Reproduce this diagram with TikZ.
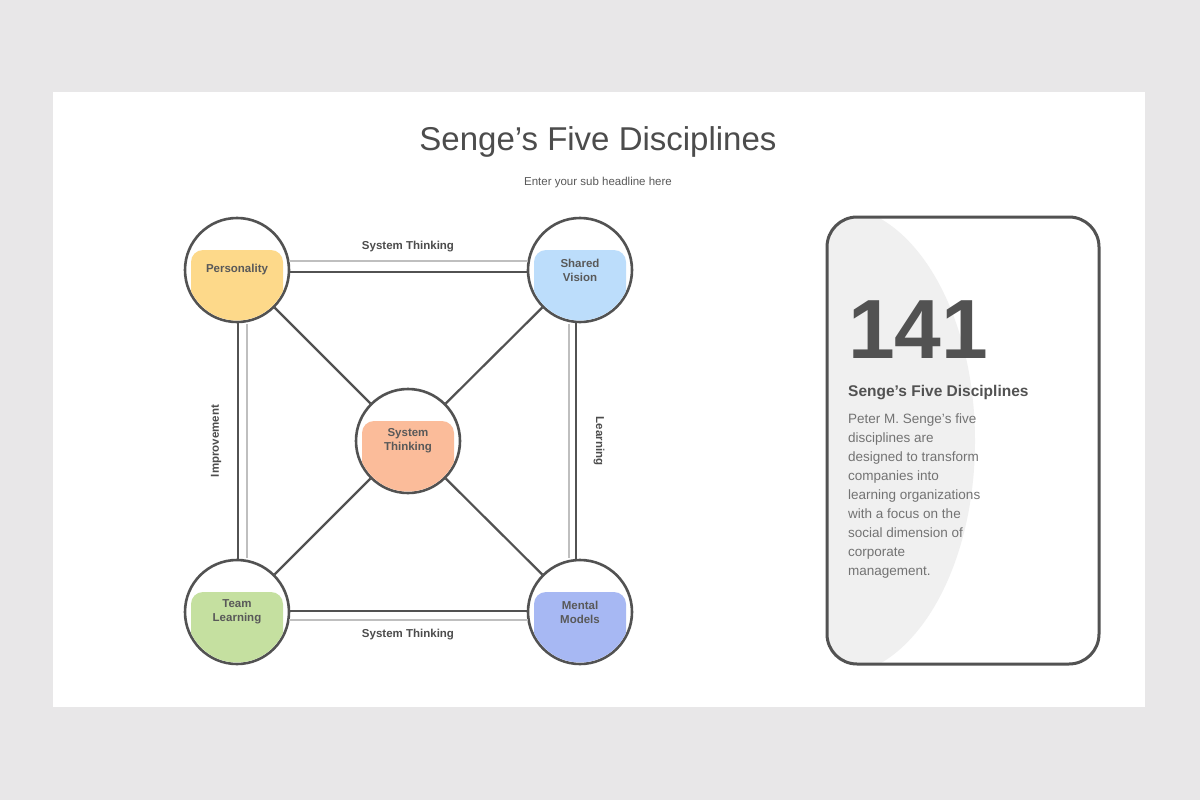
\documentclass[tikz,border=0pt]{standalone}
\usepackage{fontspec}
\setmainfont{Liberation Sans}
\definecolor{cP}{HTML}{FDD98A}
\definecolor{cS}{HTML}{BCDDFB}
\definecolor{cC}{HTML}{FBBC9A}
\definecolor{cT}{HTML}{C5E0A0}
\definecolor{cM}{HTML}{A7B8F3}
\definecolor{bg}{HTML}{E8E7E8}
\begin{document}
\begin{tikzpicture}[x=1pt,y=-1pt,
  dk/.style={draw=black!68,line width=2.6pt},
  lt/.style={draw=black!25,line width=2.6pt},
  spk/.style={draw=black!68,line width=2.2pt},
  circ/.style={circle,minimum size=104pt,inner sep=0pt,draw=black!68,line width=2.6pt},
  lab/.style={font=\bfseries\fontsize{11.5}{14}\selectfont,text=black!65,align=center},
  elab/.style={font=\bfseries\fontsize{11.5}{13}\selectfont,text=black!70}]
\useasboundingbox (0,0) rectangle (1200,800);
\fill[bg] (0,0) rectangle (1200,800);
\fill[white] (53,92) rectangle (1145,707);
\node[font=\fontsize{33}{38}\selectfont,text=black!70] (title) at (598,142) {Senge's Five Disciplines};
\node[font=\fontsize{11.5}{13}\selectfont,text=black!65] (sub) at (598,183) {Enter your sub headline here};
% circles with coloured inner shapes
\foreach \n/\x/\y/\c in {P/237/270/cP,S/580/270/cS,C/408/441/cC,T/237/612/cT,M/580/612/cM}{
  \node[circ,fill=white] (\n) at (\x,\y) {};
  \begin{scope}
    \clip (\x,\y) circle (50.5);
    \fill[\c,rounded corners=12pt] (\x-46,\y-20) rectangle (\x+46,\y+70);
  \end{scope}
}
\node[lab] (lP) at (P) {Personality};
\node[lab] (lS) at (S) {Shared\\Vision};
\node[lab] (lC) at (C) {System\\Thinking};
\node[lab] (lT) at (T) {Team\\Learning};
\node[lab] (lM) at (M) {Mental\\Models};
\draw[dk] ([yshift=-2pt]P.east) -- ([yshift=-2pt]S.west);
\draw[lt] ([yshift=9pt,xshift=-1pt]P.east) -- ([yshift=9pt,xshift=1pt]S.west);
\draw[dk] ([yshift=1pt]T.east) -- ([yshift=1pt]M.west);
\draw[lt] ([yshift=-8pt,xshift=-1pt]T.east) -- ([yshift=-8pt,xshift=1pt]M.west);
\draw[dk] ([xshift=1pt]P.south) -- ([xshift=1pt]T.north);
\draw[lt] ([xshift=10pt,yshift=-1pt]P.south) -- ([xshift=10pt,yshift=1pt]T.north);
\draw[dk] ([xshift=-4pt]S.south) -- ([xshift=-4pt]M.north);
\draw[lt] ([xshift=-11pt,yshift=-1pt]S.south) -- ([xshift=-11pt,yshift=1pt]M.north);
\draw[spk] (C) -- (P); \draw[spk] (C) -- (S); \draw[spk] (C) -- (T); \draw[spk] (C) -- (M);
\node[elab] (e1) at (408,247) {System Thinking};
\node[elab] (e2) at (408,635) {System Thinking};
\node[elab,rotate=90] (e3) at (216,441) {Improvement};
\node[elab,rotate=-90] (e4) at (599,441) {Learning};
% card
\begin{scope}
  \clip[rounded corners=30pt] (827,217) rectangle (1099,664);
  \fill[black!6] (835,441) ellipse (140 and 235);
\end{scope}
\draw[black!68,line width=3pt,rounded corners=30pt] (827,217) rectangle (1099,664);
\node[font=\bfseries\fontsize{84}{84}\selectfont,text=black!68,anchor=west,inner sep=0pt] (num) at (848,330) {141};
\node[font=\bfseries\fontsize{15.5}{18}\selectfont,text=black!68,anchor=west,inner sep=0pt] (ct) at (848,393) {Senge's Five Disciplines};
\node[font=\fontsize{13.5}{19}\selectfont,text=black!55,anchor=north west,inner sep=0pt,align=left] (body) at (848,414) {Peter M. Senge's five\\disciplines are\\designed to transform\\companies into\\learning organizations\\with a focus on the\\social dimension of\\corporate\\management.};
\end{tikzpicture}
\end{document}
